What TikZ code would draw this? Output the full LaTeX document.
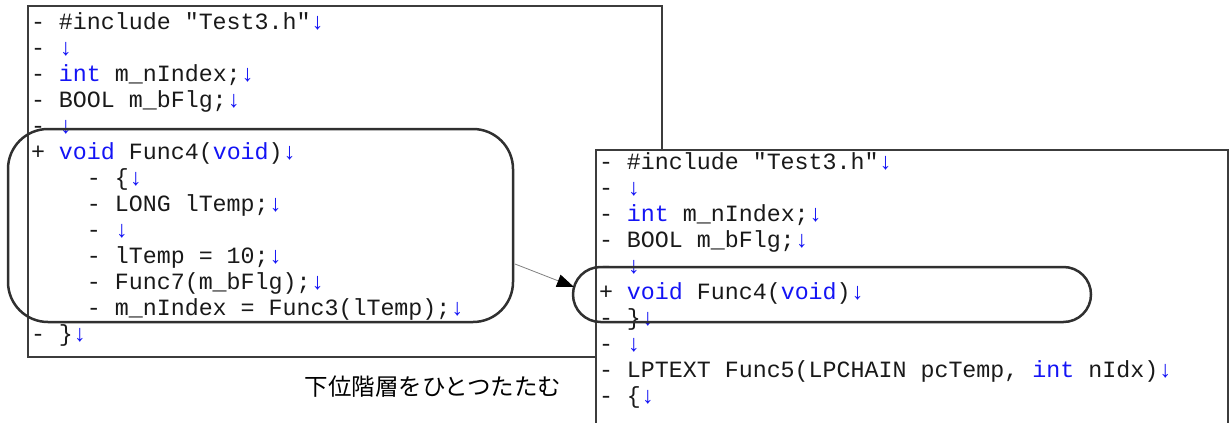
\documentclass[tikz,border=0pt]{standalone}
\usepackage{fontspec}
\newfontfamily\codefont{Liberation Mono}
\newfontfamily\jpfont{Noto Sans CJK JP}
\usetikzlibrary{arrows.meta}
\definecolor{kwblue}{RGB}{20,20,245}
\definecolor{framegray}{RGB}{60,60,60}
\definecolor{ovalgray}{RGB}{48,48,48}
\newcommand{\retarr}{\textcolor{kwblue}{\bfseries ↓}}
\newcommand{\kwd}[1]{\textcolor{kwblue}{#1}}
\tikzset{
  code/.style={font=\codefont\fontsize{23.3}{26}\selectfont, anchor=base west, inner sep=0pt, outer sep=0pt, text=black!90},
  panel/.style={draw=framegray, line width=2.2pt},
  oval/.style={draw=ovalgray, line width=2.5pt, inner sep=0pt, outer sep=0pt},
  link/.style={draw=gray, line width=0.8pt, -{Triangle[length=17pt,width=13pt,color=black,fill=black]}},
  jp/.style={font=\jpfont\fontsize{23.5}{23.5}\selectfont, inner sep=0pt}
}
\begin{document}
\begin{tikzpicture}[x=1pt,y=-1pt]
\useasboundingbox (0,0) rectangle (1229,423);
% left panel
\draw[panel] (28,6) rectangle (662,357);
\node[code] (a0)  at (31,29.5)  {-~\#include~"Test3.h"\retarr};
\node[code] (a1)  at (31,55.5)  {-~\retarr};
\node[code] (a2)  at (31,81.5)  {-~\kwd{int}~m\_nIndex;\retarr};
\node[code] (a3)  at (31,107.5) {-~BOOL~m\_bFlg;\retarr};
\node[code] (a4)  at (31,133.5) {-~\retarr};
\node[code] (a5)  at (31,159.5) {+~\kwd{void}~Func4(\kwd{void})\retarr};
\node[code] (a6)  at (31,185.5) {~~~~-~\{\retarr};
\node[code] (a7)  at (31,211.5) {~~~~-~LONG~lTemp;\retarr};
\node[code] (a8)  at (31,237.5) {~~~~-~\retarr};
\node[code] (a9)  at (31,263.5) {~~~~-~lTemp~=~10;\retarr};
\node[code] (a10) at (31,289.5) {~~~~-~Func7(m\_bFlg);\retarr};
\node[code] (a11) at (31,315.5) {~~~~-~m\_nIndex~=~Func3(lTemp);\retarr};
\node[code] (a12) at (31,341.5) {-~\}\retarr};
\node[oval, rounded corners=40pt, minimum width=505pt, minimum height=193pt] (lbox) at (260.5,225.5) {};
% right panel
\fill[white] (596,150) rectangle (1228,440);
\draw[panel] (596,440) -- (596,150) -- (1228,150) -- (1228,440);
\node[code] (b0) at (599,169.5) {-~\#include~"Test3.h"\retarr};
\node[code] (b1) at (599,195.5) {-~\retarr};
\node[code] (b2) at (599,221.5) {-~\kwd{int}~m\_nIndex;\retarr};
\node[code] (b3) at (599,247.5) {-~BOOL~m\_bFlg;\retarr};
\node[code] (b4) at (599,273.5) {-~\retarr};
\node[code] (b5) at (599,299.5) {+~\kwd{void}~Func4(\kwd{void})\retarr};
\node[code] (b6) at (599,325.5) {-~\}\retarr};
\node[code] (b7) at (599,351.5) {-~\retarr};
\node[code] (b8) at (599,377.5) {-~LPTEXT~Func5(LPCHAIN~pcTemp,~\kwd{int}~nIdx)\retarr};
\node[code] (b9) at (599,403.5) {-~\{\retarr};
\node[oval, rounded corners=27.5pt, minimum width=518pt, minimum height=55pt] (rbox) at (832,294.5) {};
% connector
\path (lbox.south east) ++(2,-58) coordinate (as);
\path (rbox.west) ++(1,-7.5) coordinate (ae);
\draw[link] (as) -- (ae);
% label
\node[jp] (lbl) at (433,387) {下位階層をひとつたたむ};
\end{tikzpicture}
\end{document}
